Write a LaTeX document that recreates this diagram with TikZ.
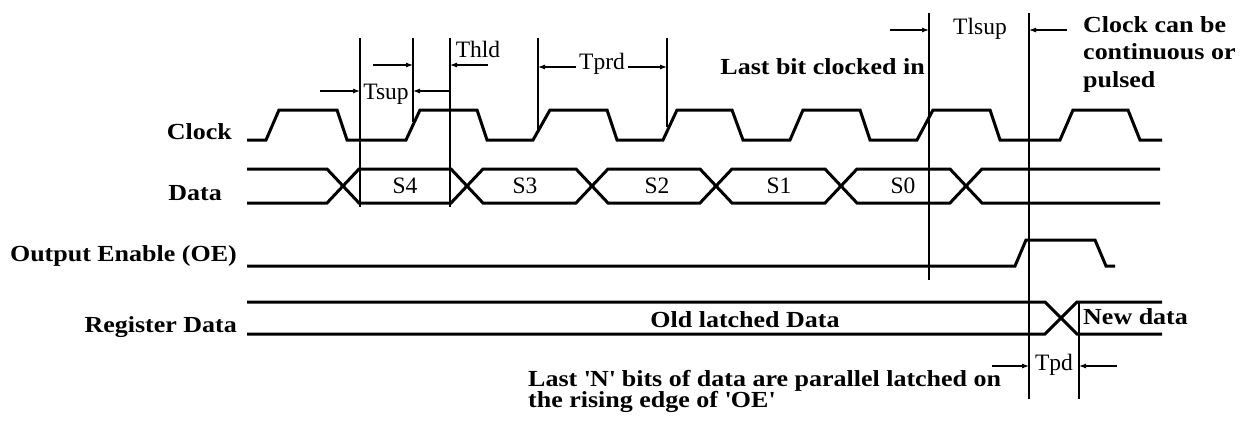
\documentclass[tikz,border=0pt]{standalone}
\usepackage{fontspec}
\setmainfont{Liberation Serif}
\newfontfamily\widebold[FakeStretch=1.13]{Liberation Serif}
\usetikzlibrary{arrows.meta}
\tikzset{
  wave/.style={line width=3pt, line join=miter},
  vline/.style={line width=1.5pt},
  dimarrow/.style={line width=1.1pt, -{Latex[length=7pt,width=5pt]}},
  blabel/.style={font=\widebold\fontsize{23}{27}\selectfont\bfseries, inner sep=0pt},
  rlabel/.style={font=\fontsize{23.5}{27}\selectfont, inner sep=0pt},
}
\begin{document}
\begin{tikzpicture}[x=1pt,y=-1pt]
\useasboundingbox (0,0) rectangle (1245,423);
% signal names
\node[blabel, anchor=east] (lclk) at (232,132) {Clock};
\node[blabel, anchor=east] (ldat) at (222,193) {Data};
\node[blabel, anchor=east] (loe) at (237,256) {Output Enable (OE)};
\node[blabel, anchor=east] (lreg) at (237,327) {Register Data};
% clock
\draw[wave] (247,140) -- (266,140) -- (279,110) -- (337,110) -- (347,140)
  -- (406,140) -- (420,110) -- (477,110) -- (487,140)
  -- (533,140) -- (550,110) -- (607,110) -- (617,140)
  -- (663,140) -- (677,110) -- (732,110) -- (743,140)
  -- (790,140) -- (803,110) -- (860,110) -- (870,140)
  -- (917,140) -- (933,110) -- (990,110) -- (1000,140)
  -- (1060,140) -- (1073,110) -- (1128,110) -- (1140,140) -- (1162,140);
% data bus
\draw[wave] (247,169) -- (327,169) -- (359,203) -- (451,203) -- (483,169)
  -- (576,169) -- (608,203) -- (700,203) -- (732,169)
  -- (825,169) -- (857,203) -- (950,203) -- (982,169) -- (1160,169);
\draw[wave] (247,203) -- (327,203) -- (359,169) -- (451,169) -- (483,203)
  -- (576,203) -- (608,169) -- (700,169) -- (732,203)
  -- (825,203) -- (857,169) -- (950,169) -- (982,203) -- (1160,203);
\node[rlabel] (s4) at (405,186) {S4};
\node[rlabel] (s3) at (525,186) {S3};
\node[rlabel] (s2) at (657,186) {S2};
\node[rlabel] (s1) at (779,186) {S1};
\node[rlabel] (s0) at (903,186) {S0};
% output enable
\draw[wave] (247,266) -- (1015,266) -- (1026,240) -- (1095,240) -- (1106,266) -- (1115,266);
% register data
\draw[wave] (247,302) -- (1045,302) -- (1077,334) -- (1162,334);
\draw[wave] (247,334) -- (1045,334) -- (1077,302) -- (1162,302);
\node[blabel] (old) at (745,320) {Old latched Data};
\node[blabel, anchor=west] (new) at (1083,317) {New data};
% vertical reference lines
\coordinate (v1t) at (360,38);  \coordinate (v1b) at (360,207);
\coordinate (v2t) at (413,38);  \coordinate (v2b) at (413,122);
\coordinate (v3t) at (450,38);  \coordinate (v3b) at (450,207);
\coordinate (v4t) at (538,38);  \coordinate (v4b) at (538,130);
\coordinate (v5t) at (667,38);  \coordinate (v5b) at (667,127);
\coordinate (v6t) at (929,13);  \coordinate (v6b) at (929,280);
\coordinate (v7t) at (1029,13); \coordinate (v7b) at (1029,399);
\coordinate (v8t) at (1079,302);\coordinate (v8b) at (1079,399);
\foreach \v in {1,...,8} \draw[vline] (v\v t) -- (v\v b);
% Tsup
\coordinate (a1s) at (320,91); \coordinate (a1e) at (360,91);
\coordinate (a2s) at (450,91); \coordinate (a2e) at (413,91);
\draw[dimarrow] (a1s) -- (a1e);
\draw[dimarrow] (a2s) -- (a2e);
\node[rlabel] (tsup) at (386,94) {Tsup};
% Thld
\coordinate (b1s) at (373,65); \coordinate (b1e) at (413,65);
\coordinate (b2s) at (488,65); \coordinate (b2e) at (450,65);
\draw[dimarrow] (b1s) -- (b1e);
\draw[dimarrow] (b2s) -- (b2e);
\node[rlabel] (thld) at (478,49) {Thld};
% Tprd
\coordinate (c1s) at (576,67); \coordinate (c1e) at (538,67);
\coordinate (c2s) at (628,67); \coordinate (c2e) at (667,67);
\draw[dimarrow] (c1s) -- (c1e);
\draw[dimarrow] (c2s) -- (c2e);
\node[rlabel] (tprd) at (602,64) {Tprd};
% Tlsup
\coordinate (d1s) at (890,30); \coordinate (d1e) at (929,30);
\coordinate (d2s) at (1067,30); \coordinate (d2e) at (1029,30);
\draw[dimarrow] (d1s) -- (d1e);
\draw[dimarrow] (d2s) -- (d2e);
\node[rlabel] (tlsup) at (980,29) {Tlsup};
% Tpd
\coordinate (e1s) at (992,366); \coordinate (e1e) at (1029,366);
\coordinate (e2s) at (1117,366); \coordinate (e2e) at (1079,366);
\draw[dimarrow] (e1s) -- (e1e);
\draw[dimarrow] (e2s) -- (e2e);
\node[rlabel] (tpd) at (1054,365) {Tpd};
% annotations
\node[blabel, anchor=east] (lastbit) at (925,67) {Last bit clocked in};
\node[blabel, anchor=base west, align=left, font=\widebold\fontsize{23}{27.5}\selectfont\bfseries] (cont) at (1083,87) {Clock can be\\continuous or\\pulsed};
\node[blabel, anchor=base west, align=left, font=\widebold\fontsize{23}{21.5}\selectfont\bfseries] (latch) at (528,407.5) {Last \textquotesingle N\textquotesingle\ bits of data are parallel latched on\\the rising edge of \textquotesingle OE\textquotesingle};
\end{tikzpicture}
\end{document}
